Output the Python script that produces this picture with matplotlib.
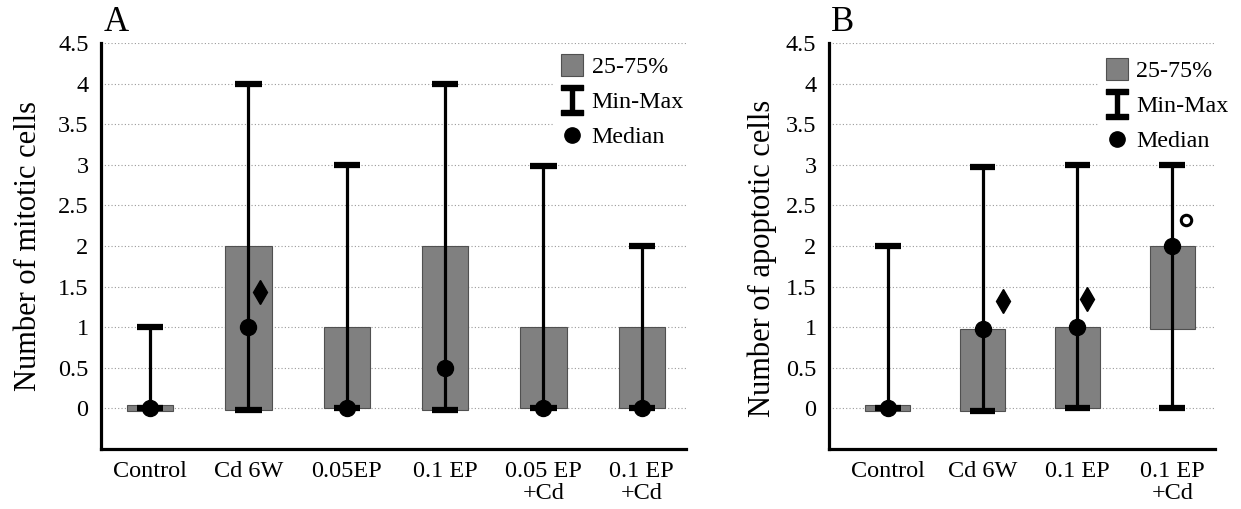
"""Box-style summary of mitotic (A) and apoptotic (B) cell counts."""

import matplotlib

matplotlib.use("Agg")

import matplotlib.pyplot as plt
import numpy as np
from matplotlib.lines import Line2D
from matplotlib.path import Path

plt.rcParams["font.family"] = ["Liberation Serif", "DejaVu Serif"]

# Panel A: mitotic cells
groups_a = ["Control", "Cd 6W", "0.05EP", "0.1 EP", "0.05 EP\n+Cd", "0.1 EP\n+Cd"]
min_a = [0, -0.02, 0, -0.02, 0, 0]
max_a = [1, 4, 3, 4, 2.98, 2]
q1_a = [-0.03, -0.02, 0.01, -0.02, 0.01, 0.01]
q3_a = [0.04, 2, 1, 2, 1, 1]
median_a = [0, 1, 0, 0.5, 0, 0]
diamond_idx_a = [1]
diamond_val_a = [1.43]
diamond_dx_a = [0.12]
ring_idx_a = []
ring_val_a = []
ring_dx_a = []

# Panel B: apoptotic cells
groups_b = ["Control", "Cd 6W", "0.1 EP", "0.1 EP\n+Cd"]
min_b = [0, -0.03, 0, 0]
max_b = [2, 2.97, 3, 3]
q1_b = [-0.03, -0.03, 0, 0.98]
q3_b = [0.04, 0.98, 1, 2]
median_b = [0, 0.98, 1, 2]
diamond_idx_b = [1, 2]
diamond_val_b = [1.32, 1.35]
diamond_dx_b = [0.21, 0.1]
ring_idx_b = [3]
ring_val_b = [2.32]
ring_dx_b = [0.15]

BOX_COLOR = "#808080"
BOX_EDGE = "#505050"
BOX_WIDTH = 0.47
CAP_HALF = 0.135


def ibeam_marker() -> Path:
    """Filled I-beam shape used for the Min-Max legend entry."""
    h, w, t, s = 0.5, 0.37, 0.16, 0.06
    verts = [
        (-w, h), (w, h), (w, h - t), (s, h - t), (s, -h + t), (w, -h + t),
        (w, -h), (-w, -h), (-w, -h + t), (-s, -h + t), (-s, h - t), (-w, h - t),
        (-w, h),
    ]
    codes = [Path.MOVETO] + [Path.LINETO] * 11 + [Path.CLOSEPOLY]
    return Path(verts, codes)


def draw_panel(ax, groups, lo, hi, q1, q3, med, d_idx, d_val, d_dx,
               r_idx, r_val, r_dx, ylabel, letter, xlim, legend_anchor, label_xy):
    x = np.arange(len(groups))
    q1 = np.asarray(q1)
    q3 = np.asarray(q3)

    ax.set_ylim(-0.5, 4.5)
    ax.set_xlim(*xlim)
    ax.set_yticks(np.arange(0, 4.51, 0.5))
    ax.set_yticklabels([f"{v:g}" for v in np.arange(0, 4.51, 0.5)])
    ax.yaxis.grid(True, linestyle=(0, (1, 2)), color="#9a9a9a", linewidth=0.8)
    ax.set_axisbelow(True)

    ax.bar(x, q3 - q1, bottom=q1, width=BOX_WIDTH, color=BOX_COLOR,
           edgecolor=BOX_EDGE, linewidth=0.8, zorder=2)
    ax.vlines(x, lo, hi, color="black", linewidth=2.3, zorder=3)
    ax.hlines(hi, x - CAP_HALF, x + CAP_HALF, color="black", linewidth=4.5, zorder=3)
    ax.hlines(lo, x - CAP_HALF, x + CAP_HALF, color="black", linewidth=4.5, zorder=3)
    ax.plot(x, med, "o", color="black", markersize=11.5, zorder=4)

    if d_idx:
        ax.plot(x[d_idx] + np.asarray(d_dx), d_val, "d", color="black",
                markersize=12, zorder=4)
    if r_idx:
        ax.plot(x[r_idx] + np.asarray(r_dx), r_val, "o", markerfacecolor="white",
                markeredgecolor="black", markeredgewidth=2.2, markersize=7.5, zorder=4)

    ax.set_xticks(x)
    ax.set_xticklabels(groups, fontsize=17.5, linespacing=1.05)
    ax.tick_params(axis="x", length=0, pad=9)
    ax.tick_params(axis="y", length=0, pad=9, labelsize=17.5)

    for side in ("top", "right"):
        ax.spines[side].set_visible(False)
    for side in ("left", "bottom"):
        ax.spines[side].set_linewidth(2.3)

    ax.set_ylabel(ylabel, fontsize=22)
    ax.yaxis.set_label_coords(*label_xy)
    ax.text(0.004, 1.01, letter, transform=ax.transAxes, fontsize=25,
            ha="left", va="bottom")

    handles = [
        Line2D([], [], linestyle="none", marker="s", markersize=16,
               markerfacecolor=BOX_COLOR, markeredgecolor=BOX_EDGE, markeredgewidth=0.8),
        Line2D([], [], linestyle="none", marker=ibeam_marker(), markersize=22,
               color="black"),
        Line2D([], [], linestyle="none", marker="o", markersize=11, color="black"),
    ]
    leg = ax.legend(handles, ["25-75%", "Min-Max", "Median"], loc="upper left",
                    bbox_to_anchor=legend_anchor, fontsize=17.3, frameon=True,
                    framealpha=1, edgecolor="none", facecolor="white",
                    handlelength=0.9, handletextpad=0.35, labelspacing=0.55,
                    borderpad=0.3, borderaxespad=0)
    leg.set_zorder(5)


def main() -> None:
    fig = plt.figure(figsize=(12.41, 5.09), dpi=100)
    ax_a = fig.add_axes([0.0814, 0.118, 0.4714, 0.7975])
    ax_b = fig.add_axes([0.668, 0.118, 0.311, 0.7975])

    draw_panel(ax_a, groups_a, min_a, max_a, q1_a, q3_a, median_a,
               diamond_idx_a, diamond_val_a, diamond_dx_a,
               ring_idx_a, ring_val_a, ring_dx_a,
               "Number of mitotic cells", "A", (-0.5, 5.45), (0.775, 0.985),
               (-0.1, 0.5))
    draw_panel(ax_b, groups_b, min_b, max_b, q1_b, q3_b, median_b,
               diamond_idx_b, diamond_val_b, diamond_dx_b,
               ring_idx_b, ring_val_b, ring_dx_b,
               "Number of apoptotic cells", "B", (-0.62, 3.45), (0.7, 0.975),
               (-0.135, 0.47))

    fig.savefig("out.png", dpi=100)
    plt.close(fig)


if __name__ == "__main__":
    main()
